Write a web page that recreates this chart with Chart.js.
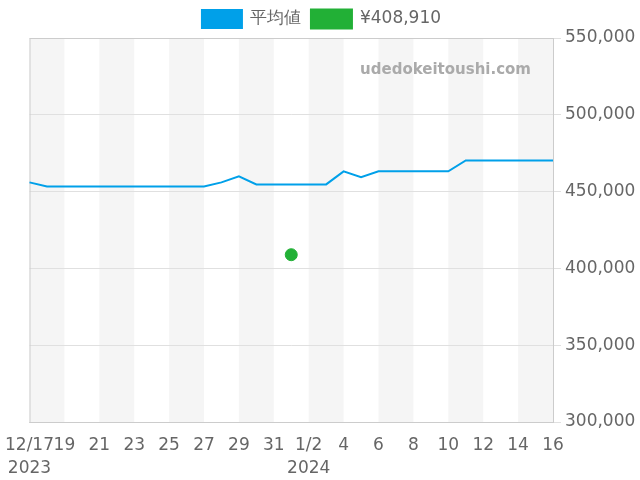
<!DOCTYPE html>
<html><head><meta charset="utf-8">
<script src="https://cdn.jsdelivr.net/npm/chart.js@4"></script>
<style>body{margin:0}#w{width:640px;height:480px}</style></head>
<body><div id="w"><canvas id="c"></canvas></div>
<script>
const labels=['12/17','18','19','20','21','22','23','24','25','26','27','28','29','30','31','1/1','2','3','4','5','6','7','8','9','10','11','12','13','14','15','16'];
const avg=[456000,453300,453300,453300,453300,453300,453300,453300,453300,453300,453300,456000,460000,454700,454700,454700,454700,454700,463200,459300,463200,463200,463200,463200,463200,470300,470300,470300,470300,470300,470300];
const price=labels.map((l,i)=>i===15?408910:null);
const bands={id:'bands',beforeDraw(ch){const {ctx,chartArea:a,scales:{x}}=ch;ctx.save();ctx.fillStyle='#f5f5f5';for(let i=0;i<30;i+=4){const x0=x.getPixelForValue(i),x1=x.getPixelForValue(Math.min(i+2,30));ctx.fillRect(x0,a.top,x1-x0,a.bottom-a.top);}ctx.restore();},
beforeDatasetsDraw(ch){const {ctx,chartArea:a}=ch;ctx.save();ctx.fillStyle='#aaa';ctx.font='bold 15px "DejaVu Sans"';ctx.textAlign='right';ctx.fillText('udedokeitoushi.com',a.right-22,a.top+32);ctx.strokeStyle='#ccc';ctx.lineWidth=1;ctx.strokeRect(a.left+.5,a.top+.5,a.right-a.left,a.bottom-a.top);ctx.restore();}};
new Chart(document.getElementById('c'),{type:'line',data:{labels,datasets:[
{label:'平均値',data:avg,borderColor:'#00a0e9',backgroundColor:'#00a0e9',borderWidth:2,pointRadius:0,tension:0},
{label:'¥408,910',data:price,borderColor:'#22b036',backgroundColor:'#22b036',pointRadius:6,showLine:false}]},
plugins:[bands],
options:{animation:false,responsive:true,maintainAspectRatio:false,layout:{padding:{left:3,right:0,top:0,bottom:0}},
plugins:{legend:{labels:{boxWidth:40,boxHeight:18,font:{size:17,family:'DejaVu Sans'},color:'#666'}},tooltip:{enabled:false}},
scales:{x:{offset:false,grid:{display:false},afterFit:s=>{s.height=58},ticks:{autoSkip:false,maxRotation:0,color:'#666',font:{size:17,family:'DejaVu Sans',lineHeight:1.3},padding:5,
callback:(v,i)=>i%2?null:(i===0?['12/17','2023']:i===16?['1/2','2024']:labels[i])}},
y:{position:'right',min:300000,max:550000,afterFit:s=>{s.width=87},ticks:{stepSize:50000,color:'#666',font:{size:17,family:'DejaVu Sans'},padding:4,callback:v=>v.toLocaleString('en-US')},grid:{color:'#e0e0e0'}}}}});
</script></body></html>
